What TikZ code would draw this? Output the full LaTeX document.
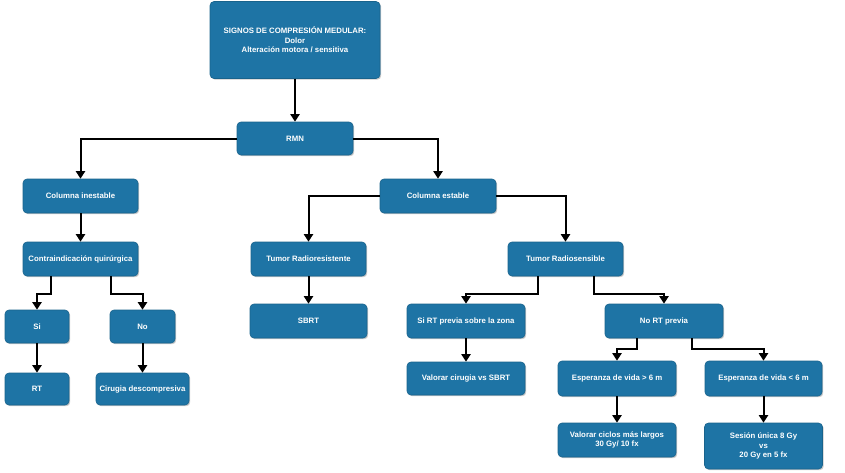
\documentclass[tikz,border=0pt]{standalone}
\usepackage{fontspec}
\setmainfont{Liberation Sans}
\usetikzlibrary{arrows.meta,shadows}
\definecolor{boxblue}{RGB}{30,116,165}
\tikzset{
  box/.style={draw=boxblue!85!black, line width=0.6pt, fill=boxblue, rounded corners=4pt,
    text=white, font=\bfseries\fontsize{7.8}{9.6}\selectfont, align=center, inner sep=1pt,
    drop shadow={shadow xshift=1.2pt, shadow yshift=-1.2pt, opacity=0.35, fill=black!60}},
  arr/.style={draw=black, line width=2pt, -{Triangle[width=9pt,length=7.5pt]}}
}
\begin{document}
\begin{tikzpicture}[x=1pt,y=-1pt]
\useasboundingbox (0,0) rectangle (845,472);
\node[box, minimum width=170pt, minimum height=77pt] (top) at (295,40) {SIGNOS DE COMPRESIÓN MEDULAR:\\Dolor\\Alteración motora / sensitiva};
\node[box, minimum width=116pt, minimum height=33pt] (rmn) at (295,138.5) {RMN};
\node[box, minimum width=115pt, minimum height=34pt] (ci) at (80.5,196) {Columna inestable};
\node[box, minimum width=115pt, minimum height=34pt] (cq) at (80.5,259) {Contraindicación quirúrgica};
\node[box, minimum width=116pt, minimum height=34pt] (ce) at (438,196) {Columna estable};
\node[box, minimum width=115pt, minimum height=34pt] (trr) at (308.5,259) {Tumor Radioresistente};
\node[box, minimum width=115pt, minimum height=34pt] (trs) at (565.5,259) {Tumor Radiosensible};
\node[box, minimum width=64pt, minimum height=33pt] (si) at (37,326.5) {Si};
\node[box, minimum width=65pt, minimum height=33pt] (no) at (142.5,326.5) {No};
\node[box, minimum width=64pt, minimum height=32pt] (rt) at (37,389) {RT};
\node[box, minimum width=93pt, minimum height=32pt] (cd) at (142.5,389) {Cirugia descompresiva};
\node[box, minimum width=117pt, minimum height=34pt] (sbrt) at (308.5,321) {SBRT};
\node[box, minimum width=118pt, minimum height=34pt] (sirt) at (466,321) {Si RT previa sobre la zona};
\node[box, minimum width=118pt, minimum height=33pt] (vc) at (466,378.5) {Valorar cirugia vs SBRT};
\node[box, minimum width=118pt, minimum height=34pt] (nort) at (664,321) {No RT previa};
\node[box, minimum width=118pt, minimum height=35pt] (evm) at (617,378.5) {Esperanza de vida > 6 m};
\node[box, minimum width=117pt, minimum height=35pt] (evl) at (763.5,378.5) {Esperanza de vida < 6 m};
\node[box, minimum width=118pt, minimum height=34pt] (vcl) at (617,440) {Valorar ciclos más largos\\30 Gy/ 10 fx};
\node[box, minimum width=118pt, minimum height=46pt] (su) at (763.5,446) {Sesión única 8 Gy\\vs\\20 Gy en 5 fx};
% connectors
\draw[arr, line width=2.6pt] (top.south) -- (rmn.north);
\draw[arr] (rmn.west) -| (ci.north);
\draw[arr] (rmn.east) -| (ce.north);
\draw[arr] (ci.south) -- (cq.north);
\draw[arr] ([xshift=-30pt]cq.south) -- ++(0,-18pt) -| (si.north);
\draw[arr] ([xshift=30pt]cq.south) -- ++(0,-18pt) -| (no.north);
\draw[arr] (si.south) -- (rt.north);
\draw[arr] (no.south) -- (cd.north);
\draw[arr] (ce.west) -| (trr.north);
\draw[arr] (ce.east) -| (trs.north);
\draw[arr] (trr.south) -- (sbrt.north);
\draw[arr] ([xshift=-28pt]trs.south) -- ++(0,-18pt) -| (sirt.north);
\draw[arr] ([xshift=28pt]trs.south) -- ++(0,-18pt) -| (nort.north);
\draw[arr] (sirt.south) -- (vc.north);
\draw[arr] ([xshift=-27pt]nort.south) -- ++(0,-11pt) -| (evm.north);
\draw[arr] ([xshift=28pt]nort.south) -- ++(0,-11pt) -| (evl.north);
\draw[arr] (evm.south) -- (vcl.north);
\draw[arr] (evl.south) -- (su.north);
\end{tikzpicture}
\end{document}
